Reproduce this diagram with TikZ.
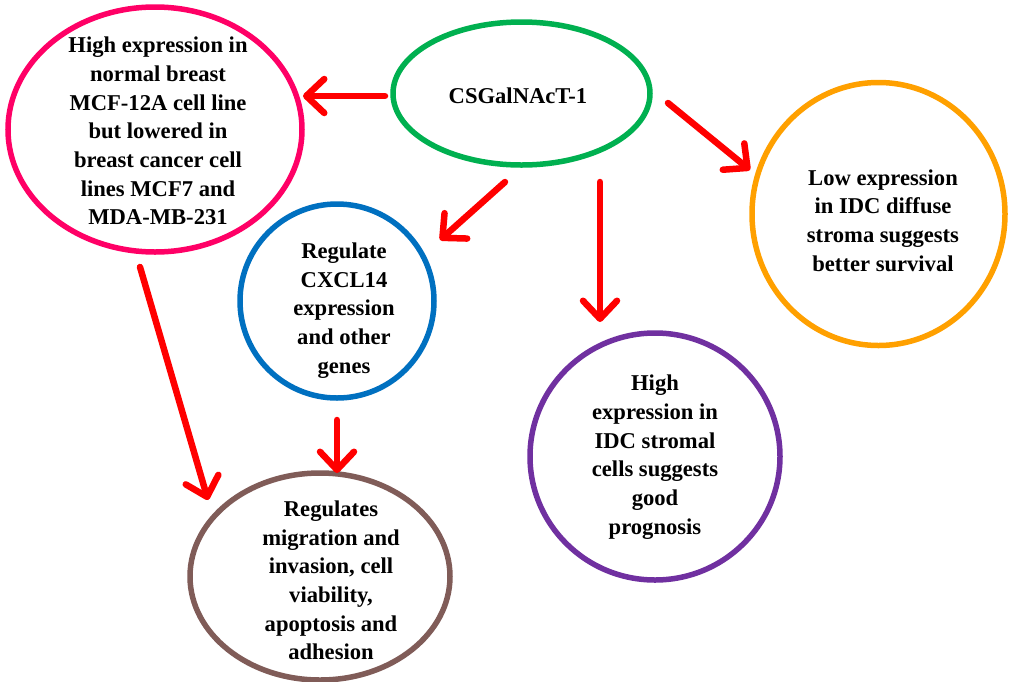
\documentclass[tikz,border=0pt]{standalone}
\usepackage{fontspec}
\setmainfont{Liberation Serif}
\usetikzlibrary{shapes.geometric,arrows.meta}
\definecolor{cgreen}{RGB}{0,176,80}
\definecolor{cpink}{RGB}{255,0,102}
\definecolor{cblue}{RGB}{0,112,192}
\definecolor{corange}{RGB}{255,160,0}
\definecolor{cpurple}{RGB}{112,48,160}
\definecolor{cbrown}{RGB}{128,92,88}
\tikzset{
  bubble/.style={ellipse, draw, line width=5.5pt, inner sep=0pt, fill=white},
  txt/.style={font=\bfseries\fontsize{22.6}{28.7}\selectfont, align=center, inner sep=0pt},
  arr/.style={draw=red, line width=6.5pt, line cap=round,
    -{Straight Barb[length=18pt,width=34pt,round]}},
}
\begin{document}
\begin{tikzpicture}[x=1pt,y=-1pt]
\useasboundingbox[fill=white] (0,0) rectangle (1010,681);
% bubbles
\node[bubble, draw=cgreen, minimum width=257pt, minimum height=143pt] (g) at (521.5,93.5) {};
\node[bubble, draw=cpink, minimum width=294pt, minimum height=245pt] (p) at (155,129.5) {};
\node[bubble, draw=cblue, minimum width=194pt, minimum height=194pt] (b) at (337,301) {};
\node[bubble, draw=corange, minimum width=253pt, minimum height=263pt] (o) at (878.5,214) {};
\node[bubble, draw=cpurple, minimum width=250pt, minimum height=247pt] (u) at (655,456.5) {};
\node[bubble, draw=cbrown, minimum width=260pt, minimum height=207pt] (r) at (320,576.5) {};
% texts
\node[txt] (gt) at (518,96) {CSGalNAcT-1};
\node[txt] (pt) at (158,131) {High expression in\\normal breast\\MCF-12A cell line\\but lowered in\\breast cancer cell\\lines MCF7 and\\MDA-MB-231};
\node[txt] (bt) at (344,310.5) {Regulate\\CXCL14\\expression\\and other\\genes};
\node[txt] (ot) at (883,220.5) {Low expression\\in IDC diffuse\\stroma suggests\\better survival};
\node[txt] (ut) at (655,457) {High\\expression in\\IDC stromal\\cells suggests\\good\\prognosis};
\node[txt] (rt) at (331,580.5) {Regulates\\migration and\\invasion, cell\\viability,\\apoptosis and\\adhesion};
% connector ends
\coordinate (g1) at (385,96);  \coordinate (p1) at (303,96);
\coordinate (g2) at (668,103); \coordinate (o1) at (750,170);
\coordinate (g3) at (505,182); \coordinate (b1) at (440,240);
\coordinate (g4) at (600,182); \coordinate (u1) at (600,322);
\coordinate (p2) at (140,267); \coordinate (r1) at (208,500);
\coordinate (b2) at (337,420); \coordinate (r2) at (337,473);
% arrows
\draw[arr] (g1) -- (p1);
\draw[arr] (g2) -- (o1);
\draw[arr] (g3) -- (b1);
\draw[arr] (g4) -- (u1);
\draw[arr] (p2) -- (r1);
\draw[arr] (b2) -- (r2);
\end{tikzpicture}
\end{document}
